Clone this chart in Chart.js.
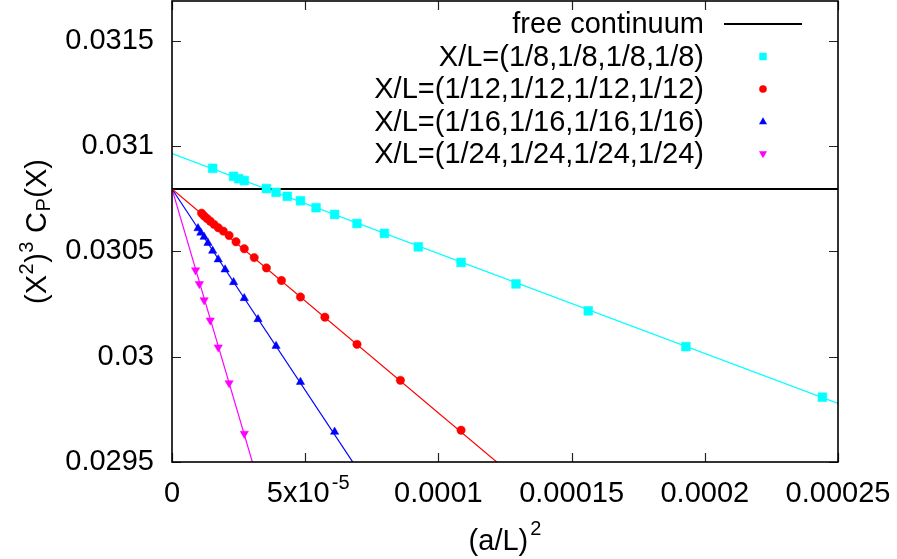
<!DOCTYPE html>
<html>
<head>
<meta charset="utf-8">
<script src="https://cdn.jsdelivr.net/npm/chart.js@4.4.1/dist/chart.umd.min.js"></script>
<style>
  html, body { margin: 0; padding: 0; background: #fff; }
  #wrap { width: 897px; height: 559px; }
</style>
</head>
<body>
<div id="wrap"><canvas id="c" width="897" height="559" style="width:897px;height:559px"></canvas></div>
<script>
// ---- data ----
// x = (a/L)^2
const cyanX = [2.4414e-4, 1.9290e-4, 1.5625e-4, 1.2913e-4, 1.0851e-4, 9.2456e-5, 7.9719e-5, 6.9444e-5, 6.1035e-5, 5.4066e-5, 4.8225e-5, 4.3283e-5, 3.9063e-5, 3.5431e-5, 2.7127e-5, 2.5000e-5, 2.3114e-5, 1.5259e-5];
const cyanY = [0.029808, 0.030048, 0.030218, 0.030346, 0.030448, 0.030522, 0.030586, 0.030633, 0.030676, 0.030708, 0.030741, 0.030762, 0.030781, 0.030799, 0.030837, 0.030846, 0.030857, 0.030895];

const redX = [1.0851e-4, 8.5734e-5, 6.9444e-5, 5.7392e-5, 4.8225e-5, 4.1091e-5, 3.5431e-5, 3.0864e-5, 2.7127e-5, 2.4029e-5, 2.1433e-5, 1.9237e-5, 1.7361e-5, 1.5747e-5, 1.4348e-5, 1.3127e-5, 1.2056e-5, 1.1111e-5];
const redY = [0.029651, 0.029888, 0.030059, 0.030188, 0.030284, 0.030362, 0.030422, 0.030471, 0.030513, 0.030546, 0.030576, 0.030597, 0.030613, 0.030629, 0.030644, 0.030657, 0.030669, 0.030682];

const blueX = [6.1035e-5, 4.8225e-5, 3.9063e-5, 3.2283e-5, 2.7127e-5, 2.3114e-5, 1.9930e-5, 1.7361e-5, 1.5259e-5, 1.3516e-5, 1.2056e-5, 1.0821e-5, 9.7656e-6];
const blueY = [0.029643, 0.029880, 0.030051, 0.030178, 0.030278, 0.030354, 0.030414, 0.030462, 0.030503, 0.030540, 0.030569, 0.030589, 0.030610];

const magX = [2.7127e-5, 2.1433e-5, 1.7361e-5, 1.4348e-5, 1.2056e-5, 1.0273e-5, 8.8577e-6];
const magY = [0.029635, 0.029875, 0.030045, 0.030173, 0.030269, 0.030346, 0.030411];

// fit lines: value at x = 0 and at x = 0.00025
const fitX = [0, 0.00025];
const cyanFitY = [0.030965, 0.029778];
const redFitY = [0.030797, 0.028137];
const blueFitY = [0.030797, 0.026017];
const magFitY = [0.030797, 0.020047];
const continuumY = [0.030797, 0.030797];

const seriesNames = ['free continuum', 'X/L=(1/8,1/8,1/8,1/8)', 'X/L=(1/12,1/12,1/12,1/12)', 'X/L=(1/16,1/16,1/16,1/16)', 'X/L=(1/24,1/24,1/24,1/24)'];

const xTickVals = [0, 0.00005, 0.0001, 0.00015, 0.0002, 0.00025];
const xTickLabels = ['0', '5x10^-5', '0.0001', '0.00015', '0.0002', '0.00025'];
const yTickVals = [0.0295, 0.03, 0.0305, 0.031, 0.0315];
const yTickLabels = ['0.0295', '0.03', '0.0305', '0.031', '0.0315'];

// ---- build ----
const FONT = '"Liberation Sans", Arial, Helvetica, sans-serif';
const zip = (xs, ys) => xs.map((x, i) => ({x: x, y: ys[i]}));
const COL = {cyan: '#00ffff', red: '#ff0000', blue: '#0000ff', mag: '#ff00ff'};

function lineDs(ys, color, w, order) {
  return {type: 'line', data: zip(fitX, ys), borderColor: color, borderWidth: w, pointRadius: 0, showLine: true, fill: false, order: order, tension: 0};
}
function ptDs(xs, ys, color, style, r, rot, order) {
  return {type: 'scatter', data: zip(xs, ys), backgroundColor: color, borderColor: color, borderWidth: 0.5,
    pointStyle: style, pointRadius: r, pointRotation: rot, showLine: false, order: order};
}

const decor = {
  id: 'decor',
  afterDraw(chart) {
    const ctx = chart.ctx, a = chart.chartArea;
    const xs = chart.scales.x, ys = chart.scales.y;
    ctx.save();
    // ticks (inward, mirrored)
    ctx.strokeStyle = '#222';
    ctx.lineWidth = 1.2;
    const TL = 9;
    ctx.beginPath();
    xTickVals.forEach(v => {
      const px = Math.round(xs.getPixelForValue(v)) + 0.5;
      ctx.moveTo(px, a.bottom); ctx.lineTo(px, a.bottom - TL);
      ctx.moveTo(px, a.top); ctx.lineTo(px, a.top + TL);
    });
    yTickVals.forEach(v => {
      const py = Math.round(ys.getPixelForValue(v)) + 0.5;
      ctx.moveTo(a.left, py); ctx.lineTo(a.left + TL, py);
      ctx.moveTo(a.right, py); ctx.lineTo(a.right - TL, py);
    });
    ctx.stroke();
    // frame
    ctx.strokeStyle = '#000';
    ctx.lineWidth = 1.6;
    ctx.strokeRect(a.left, a.top, a.right - a.left, a.bottom - a.top);

    // x tick labels
    ctx.fillStyle = '#000';
    ctx.textBaseline = 'alphabetic';
    const big = '29px ' + FONT, small = '20px ' + FONT;
    xTickVals.forEach((v, i) => {
      const px = xs.getPixelForValue(v);
      const lab = xTickLabels[i];
      if (lab.indexOf('^') >= 0) {
        const parts = lab.split('^');
        ctx.font = big; const w1 = ctx.measureText(parts[0]).width;
        ctx.font = small; const w2 = ctx.measureText(parts[1]).width;
        let x0 = px - (w1 + w2 + 2) / 2 + 3;
        ctx.textAlign = 'left';
        ctx.font = big; ctx.fillText(parts[0], x0, 502);
        ctx.font = small; ctx.fillText(parts[1], x0 + w1 + 2, 489);
      } else {
        ctx.font = big; ctx.textAlign = 'center';
        ctx.fillText(lab, px, 502);
      }
    });

    // x axis title (a/L)^2
    {
      ctx.textAlign = 'left';
      ctx.font = big; const w1 = ctx.measureText('(a/L)').width;
      ctx.font = small; const w2 = ctx.measureText('2').width;
      const cx = (a.left + a.right) / 2;
      const x0 = cx - (w1 + w2 + 2) / 2;
      ctx.font = big; ctx.fillText('(a/L)', x0, 550);
      ctx.font = small; ctx.fillText('2', x0 + w1 + 2, 535);
    }

    // y axis title (X^2)^3 C_P(X)
    {
      const pieces = [['(X', 0], ['2', 1], [')', 0], ['3', 1], [' C', 0], ['P', -1], ['(X)', 0]];
      let widths = pieces.map(p => { ctx.font = p[1] === 0 ? big : small; return ctx.measureText(p[0]).width + (p[1] === 0 ? 0 : 1); });
      const total = widths.reduce((s, w) => s + w, 0);
      ctx.translate(46, (a.top + a.bottom) / 2);
      ctx.rotate(-Math.PI / 2);
      let x = -total / 2;
      ctx.textAlign = 'left';
      pieces.forEach((p, i) => {
        ctx.font = p[1] === 0 ? big : small;
        const dy = p[1] === 1 ? -13 : (p[1] === -1 ? 4 : 0);
        ctx.fillText(p[0], x + (p[1] === 0 ? 0 : 0.5), dy);
        x += widths[i];
      });
      ctx.setTransform(1, 0, 0, 1, 0, 0);
    }

    // legend
    const rows = [24, 56.5, 89, 121.5, 154];
    ctx.font = big; ctx.textAlign = 'right'; ctx.textBaseline = 'middle';
    rows.forEach((ry, i) => ctx.fillText(seriesNames[i], 704, ry + 1));
    ctx.strokeStyle = '#000'; ctx.lineWidth = 2;
    ctx.beginPath(); ctx.moveTo(724, rows[0]); ctx.lineTo(802, rows[0]); ctx.stroke();
    const mx = 763;
    ctx.fillStyle = COL.cyan; ctx.fillRect(mx - 3.7, rows[1] - 3.7, 7.4, 7.4);
    ctx.fillStyle = COL.red; ctx.beginPath(); ctx.arc(mx, rows[2], 3.8, 0, Math.PI * 2); ctx.fill();
    ctx.fillStyle = COL.blue; ctx.beginPath();
    ctx.moveTo(mx, rows[3] - 4.2); ctx.lineTo(mx + 4, rows[3] + 2.8); ctx.lineTo(mx - 4, rows[3] + 2.8); ctx.closePath(); ctx.fill();
    ctx.fillStyle = COL.mag; ctx.beginPath();
    ctx.moveTo(mx, rows[4] + 4.2); ctx.lineTo(mx + 4, rows[4] - 2.8); ctx.lineTo(mx - 4, rows[4] - 2.8); ctx.closePath(); ctx.fill();
    ctx.restore();
  }
};

new Chart(document.getElementById('c'), {
  type: 'scatter',
  data: {
    datasets: [
      ptDs(cyanX, cyanY, COL.cyan, 'rect', 6.2, 0, 0),
      ptDs(redX, redY, COL.red, 'circle', 4.2, 0, 1),
      ptDs(blueX, blueY, COL.blue, 'triangle', 4.8, 0, 2),
      ptDs(magX, magY, COL.mag, 'triangle', 4.8, 180, 3),
      lineDs(cyanFitY, COL.cyan, 1.2, 10),
      lineDs(redFitY, COL.red, 1.2, 11),
      lineDs(blueFitY, COL.blue, 1.2, 12),
      lineDs(magFitY, COL.mag, 1.2, 13),
      lineDs(continuumY, '#000', 2, 14)
    ]
  },
  options: {
    responsive: false,
    animation: false,
    devicePixelRatio: 1,
    layout: {autoPadding: false, padding: {left: 0, right: 59, top: 1, bottom: 0}},
    plugins: {legend: {display: false}, tooltip: {enabled: false}},
    scales: {
      x: {
        type: 'linear', min: 0, max: 0.00025,
        grid: {display: false}, border: {display: false},
        ticks: {display: false},
        afterBuildTicks: s => { s.ticks = xTickVals.map(v => ({value: v})); },
        afterFit: s => { s.height = 97; s.paddingLeft = 0; s.paddingRight = 0; s.paddingTop = 0; s.paddingBottom = 0; }
      },
      y: {
        type: 'linear', min: 0.0295, max: 0.03169,
        grid: {display: false, drawTicks: false}, border: {display: false},
        ticks: {
          color: '#000', padding: 18, font: {family: FONT, size: 29},
          callback: (v, i) => yTickLabels[i]
        },
        afterBuildTicks: s => { s.ticks = yTickVals.map(v => ({value: v})); },
        afterFit: s => { s.width = 172; s.paddingTop = 0; s.paddingBottom = 0; s.paddingLeft = 0; s.paddingRight = 0; }
      }
    }
  },
  plugins: [decor]
});
</script>
</body>
</html>
